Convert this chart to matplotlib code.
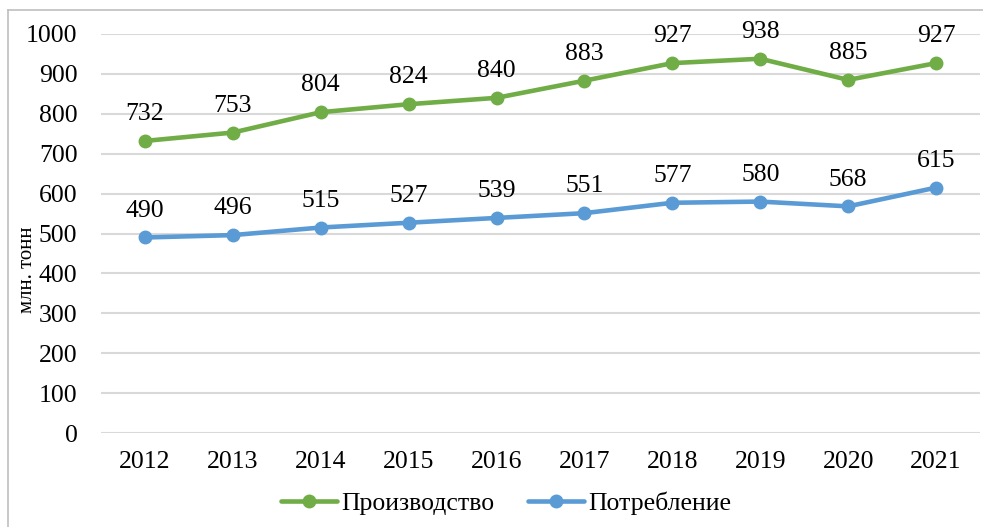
import matplotlib

matplotlib.use("Agg")
import matplotlib.pyplot as plt
from matplotlib.lines import Line2D

years = ["2012", "2013", "2014", "2015", "2016", "2017", "2018", "2019", "2020", "2021"]
production = [732, 753, 804, 824, 840, 883, 927, 938, 885, 927]
consumption = [490, 496, 515, 527, 539, 551, 577, 580, 568, 615]
series_names = ["Производство", "Потребление"]
y_label = "млн. тонн"

GREEN = "#70AD47"
BLUE = "#5B9BD5"
GRID = "#D9D9D9"

plt.rcParams["font.family"] = ["Liberation Serif", "DejaVu Serif"]

fig = plt.figure(figsize=(9.83, 5.27), dpi=100, facecolor="white")
ax = fig.add_axes([101 / 983, 1 - 433 / 527, 879 / 983, 399 / 527])

x = list(range(len(years)))
for values, color, name in [(production, GREEN, series_names[0]), (consumption, BLUE, series_names[1])]:
    ax.plot(x, values, color=color, linewidth=3.3, marker="o", markersize=9,
            solid_capstyle="round", label=name, zorder=3)
    for xi, v in zip(x, values):
        ax.annotate(str(v), (xi, v), xytext=(0, 15), textcoords="offset points",
                    ha="center", va="baseline", fontsize=18.5, color="#000000")

ax.set_xlim(-0.5, len(years) - 0.5)
ax.set_ylim(0, 1000)
ax.set_yticks(range(0, 1001, 100))
ax.set_xticks(x)
ax.set_xticklabels(years)
ax.yaxis.grid(True, color=GRID, linewidth=1.5)
ax.set_axisbelow(True)
for spine in ax.spines.values():
    spine.set_visible(False)
ax.tick_params(axis="both", length=0, labelsize=18.5)
ax.tick_params(axis="y", pad=17)
ax.tick_params(axis="x", pad=13)

fig.text(27 / 983, 1 - 270 / 527, y_label, rotation=90, ha="center", va="center", fontsize=15)

fig.legend(loc="center", bbox_to_anchor=(506 / 983, 1 - 503 / 527), ncol=2, frameon=False,
           fontsize=18.5, handlelength=2.2, handletextpad=0.15, columnspacing=1.3)

# chart border (clipped at right/bottom in the source)
border = "#BFBFBF"
fig.add_artist(Line2D([8 / 983, 8 / 983], [0, 1 - 10 / 527], color=border, linewidth=1.2,
                      transform=fig.transFigure))
fig.add_artist(Line2D([8 / 983, 1], [1 - 10 / 527, 1 - 10 / 527], color=border, linewidth=1.2,
                      transform=fig.transFigure))

fig.savefig("out.png", dpi=100, facecolor="white")
plt.close(fig)
